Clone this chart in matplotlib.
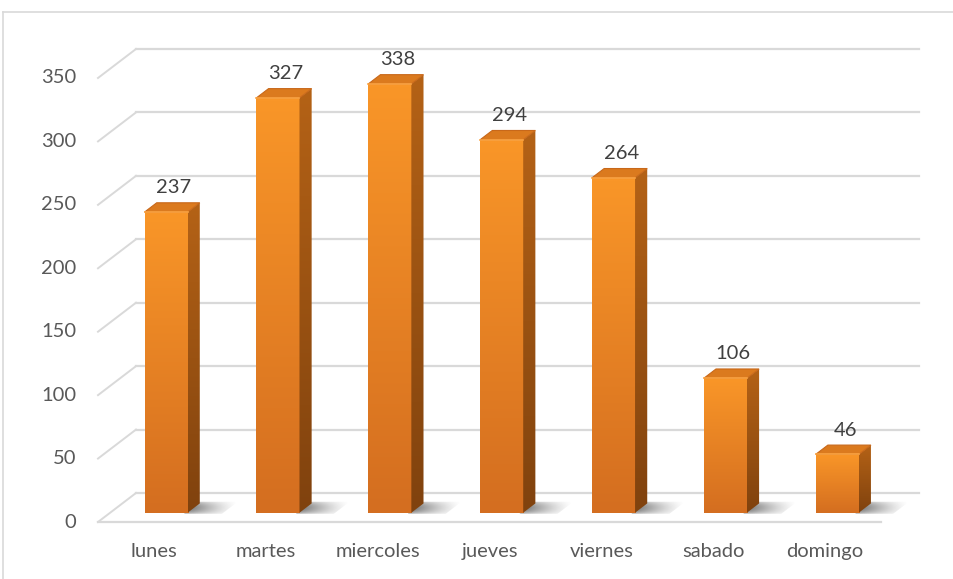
import numpy as np
import matplotlib
matplotlib.use("Agg")
import matplotlib.pyplot as plt
from matplotlib.patches import Polygon
from matplotlib.lines import Line2D

dias = ['lunes', 'martes', 'miercoles', 'jueves', 'viernes', 'sabado', 'domingo']
valores = [237, 327, 338, 294, 264, 106, 46]
ticks_y = [0, 50, 100, 150, 200, 250, 300, 350]

W, H = 954, 579
fig = plt.figure(figsize=(W / 100, H / 100), dpi=100)
ax = fig.add_axes([0, 0, 1, 1])
ax.axis('off')
plt.rcParams['font.family'] = ['Lato', 'DejaVu Sans']
fs = 14.5

# scale: pixels per category / per value unit, floor front-left corner
px_cat = 111.86
px_val = 1.2686
x0_px, y0_px = 98, 522
DX = 38 / px_cat   # depth shift of the 3d box
DY = 29 / px_val
d1, d2 = 0.32, 0.64  # bar front/back depth
ancho = 0.385


def proj(x, v, d):
    return (x + d * DX, v + d * DY)


grid_c = '#D9D9D9'
n = len(dias)

# back wall gridlines and side wall diagonals
for v in ticks_y:
    a = proj(-0.5, v, 1)
    b = proj(n - 0.5, v, 1)
    ax.plot([a[0], b[0]], [a[1], b[1]], color=grid_c, lw=1.6, zorder=1)
    c = proj(-0.5, v, 0)
    ax.plot([c[0], a[0]], [c[1], a[1]], color=grid_c, lw=1.4, zorder=1)
    ax.text(-0.695, v, str(v), ha='right', va='center', fontsize=fs,
            color='#595959')

# floor front edge
a = proj(-0.5, 0, 0)
b = proj(n - 0.5, 0, 0)
ax.plot([a[0], b[0]], [a[1], b[1]], color=grid_c, lw=1.6, zorder=1)


def grad(c_top, c_bot, k=64):
    t = np.linspace(0, 1, k)[:, None]
    c = np.array(c_top)[None, :] * (1 - t) + np.array(c_bot)[None, :] * t
    return (c / 255.0)[:, None, :]


front_g = grad((249, 150, 40), (212, 110, 32))
side_g = grad((180, 98, 22), (128, 66, 14))

# soft shadow texture: fades to the right and toward the front
gx = np.linspace(1, 0, 64)[None, :] ** 1.3
gy = np.sin(np.linspace(0.2, np.pi - 0.2, 32))[:, None] ** 0.6
sombra = np.zeros((32, 64, 4))
sombra[..., :3] = 0.25
sombra[..., 3] = 0.8 * gx * gy

for i, v in enumerate(valores):
    xl = i - ancho / 2
    xr = i + ancho / 2

    # floor shadow to the right of the bar
    sh = [proj(xr - 0.02, 0, d1 - 0.04), proj(xr + 0.32, 0, d1 - 0.04),
          proj(xr + 0.32, 0, d2 + 0.06), proj(xr - 0.02, 0, d2 + 0.06)]
    sp = Polygon(sh, closed=True, fc='none', ec='none', transform=ax.transData)
    ax.add_patch(sp)
    xs = [p[0] for p in sh]
    ys = [p[1] for p in sh]
    im = ax.imshow(sombra, extent=[min(xs), max(xs), min(ys), max(ys)],
                   aspect='auto', zorder=2, interpolation='bilinear')
    im.set_clip_path(sp)

    # small shadow behind the left edge
    sh2 = [proj(xl - 0.07, 0, d2 - 0.02), proj(xl, 0, d1 + 0.05),
           proj(xl, 0, d2 + 0.02)]
    ax.add_patch(Polygon(sh2, closed=True, fc='#7a7a7a', ec='none', alpha=0.5,
                         zorder=2))

    # front face
    fx0, fy0 = proj(xl, 0, d1)
    fx1, fy1 = proj(xr, v, d1)
    ax.imshow(front_g, extent=[fx0, fx1, fy0, fy1], aspect='auto',
              origin='upper', zorder=3, interpolation='bilinear')

    # side face
    side = [proj(xr, 0, d1), proj(xr, 0, d2), proj(xr, v, d2), proj(xr, v, d1)]
    spp = Polygon(side, closed=True, fc='none', ec='none', transform=ax.transData)
    ax.add_patch(spp)
    xs = [p[0] for p in side]
    ys = [p[1] for p in side]
    im = ax.imshow(side_g, extent=[min(xs), max(xs), min(ys), max(ys)],
                   aspect='auto', origin='upper', zorder=3,
                   interpolation='bilinear')
    im.set_clip_path(spp)

    # top face
    top = [proj(xl, v, d1), proj(xr, v, d1), proj(xr, v, d2), proj(xl, v, d2)]
    ax.add_patch(Polygon(top, closed=True, fc='#DB7A1E', ec='#C8681A',
                         lw=0.8, zorder=4))
    # highlight on the front top edge
    p, q = proj(xl, v, d1), proj(xr, v, d1)
    ax.plot([p[0], q[0]], [p[1], q[1]], color='#FBA443', lw=1.2, zorder=4)

    lx, ly = proj(i, v, 0.5)
    ax.text(lx + 0.01, ly + 15, str(v), ha='center', va='center',
            fontsize=fs, color='#404040', zorder=5)
    ax.text(i, -23.5, dias[i], ha='center', va='center', fontsize=fs,
            color='#595959')

ax.set_xlim(-0.5 - x0_px / px_cat, -0.5 + (W - x0_px) / px_cat)
ax.set_ylim(-(H - y0_px) / px_val, y0_px / px_val)

# chart area border
fy = 1 - 12 / H
fx = 3 / W
fig.add_artist(Line2D([fx, 1.0], [fy, fy], color='#D9D9D9', lw=1.2))
fig.add_artist(Line2D([fx, fx], [0, fy], color='#D9D9D9', lw=1.2))

fig.savefig('out.png', dpi=100)
